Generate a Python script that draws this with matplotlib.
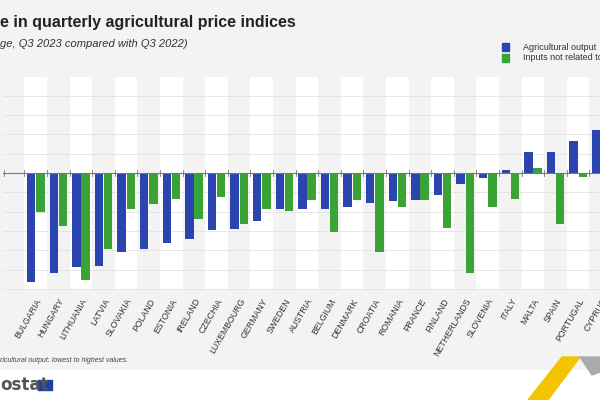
import matplotlib
matplotlib.use("Agg")
import matplotlib.pyplot as plt
import numpy as np
from matplotlib.patches import Rectangle, Polygon

plt.rcParams['font.family'] = ['Liberation Sans', 'DejaVu Sans']

countries = ["BULGARIA","HUNGARY","LITHUANIA","LATVIA","SLOVAKIA","POLAND","ESTONIA","IRELAND",
             "CZECHIA","LUXEMBOURG","GERMANY","SWEDEN","AUSTRIA","BELGIUM","DENMARK","CROATIA",
             "ROMANIA","FRANCE","FINLAND","NETHERLANDS","SLOVENIA","ITALY","MALTA","SPAIN",
             "PORTUGAL","CYPRUS"]
output = [-28.2,-26.0,-24.3,-24.0,-20.4,-19.7,-18.0,-17.2,-14.8,-14.5,-12.3,-9.4,-9.3,-9.2,
          -8.7,-7.8,-7.2,-6.9,-5.7,-2.9,-1.3,0.9,5.4,5.4,8.2,11.1]
inputs = [-10.1,-13.6,-27.7,-19.8,-9.4,-7.9,-6.7,-11.9,-6.1,-13.3,-9.3,-9.7,-7.1,-15.3,
          -6.9,-20.5,-8.7,-7.1,-14.2,-25.8,-8.8,-6.6,1.3,-13.3,-1.0,-3.0]

W, H = 600, 400
fig = plt.figure(figsize=(6, 4), dpi=100)
fig.patch.set_facecolor('#f3f3f3')
fig.add_artist(Rectangle((0, 0), 1, 30/H, transform=fig.transFigure, color='white', zorder=0))

pitch = 22.6
x0 = -1.45
x1 = 25.5
left_px = 3
width_px = (x1 - x0) * pitch
ytop, ybot = 77, 290
ax = fig.add_axes([left_px/W, 1 - ybot/H, width_px/W, (ybot - ytop)/H])
ax.set_facecolor('#f3f3f3')
ax.set_xlim(x0, x1)
ax.set_ylim(-30.3, 24.9)
for i in range(len(countries)):
    if i % 2 == 0:
        ax.axvspan(i - 0.5, i + 0.5, color='white', zorder=0, lw=0)
for y in np.arange(-30, 25, 5):
    ax.axhline(y, color='#e2e2e2', lw=0.6, zorder=1)
ax.axhline(0, color='#777777', lw=0.8, zorder=3)
for i in range(len(countries) + 1):
    ax.plot([i - 0.5, i - 0.5], [-0.7, 0.7], color='#777777', lw=0.6, zorder=3)
ax.plot([x0 + 0.05, x0 + 0.05], [-0.7, 0.7], color='#777777', lw=0.6, zorder=3)

x = np.arange(len(countries))
bw = 0.37
ax.bar(x - bw/2 - 0.02, output, bw, color='#2a44b0', zorder=2, label='Agricultural output')
ax.bar(x + bw/2 + 0.02, inputs, bw, color='#3aa335', zorder=2, label='Inputs not related to investment')
ax.set_xticks(x)
ax.set_xticklabels(countries, rotation=60, ha='right', rotation_mode='anchor',
                   fontsize=6.3, color='#333333')
ax.tick_params(axis='x', length=0, pad=5)
ax.set_yticks([])
for s in ax.spines.values():
    s.set_visible(False)

fig.text(0, 1 - 22/H, "e in quarterly agricultural price indices", fontsize=11.5,
         fontweight='bold', color='#222222', va='center')
fig.text(0, 1 - 44/H, "ge, Q3 2023 compared with Q3 2022)", fontsize=8,
         style='italic', color='#333333', va='center')

fig.add_artist(Rectangle((502/W, 1 - 51/H), 7/W, 8/H, transform=fig.transFigure, color='#2a44b0'))
fig.add_artist(Rectangle((502/W, 1 - 62/H), 7/W, 8/H, transform=fig.transFigure, color='#3aa335'))
fig.text(523/W, 1 - 47/H, "Agricultural output", fontsize=6.5, color='#333333', va='center')
fig.text(523/W, 1 - 58/H, "Inputs not related to investment", fontsize=6.5, color='#333333', va='center')

fig.text(0, 1 - 360/H, "ricultural output: lowest to highest values.", fontsize=5,
         style='italic', color='#444444', va='center')
fig.text(0, 1 - 385/H, "ostat", fontsize=12, fontweight='bold', color='#555555', va='center',
         family='DejaVu Sans')
fig.add_artist(Rectangle((38/W, 1 - 390/H), 14/W, 10/H, transform=fig.transFigure, color='#1f3fa8'))

fig.add_artist(Polygon([(562/W, 1 - 357/H), (580/W, 1 - 357/H), (548/W, 0), (528/W, 0)],
                       closed=True, transform=fig.transFigure, color='#f5c400'))
fig.add_artist(Polygon([(580/W, 1 - 357/H), (600/W, 1 - 357/H), (600/W, 1 - 372/H), (592/W, 1 - 375/H)],
                       closed=True, transform=fig.transFigure, color='#aaaaaa'))

fig.savefig('out.png', dpi=100, facecolor=fig.get_facecolor())
